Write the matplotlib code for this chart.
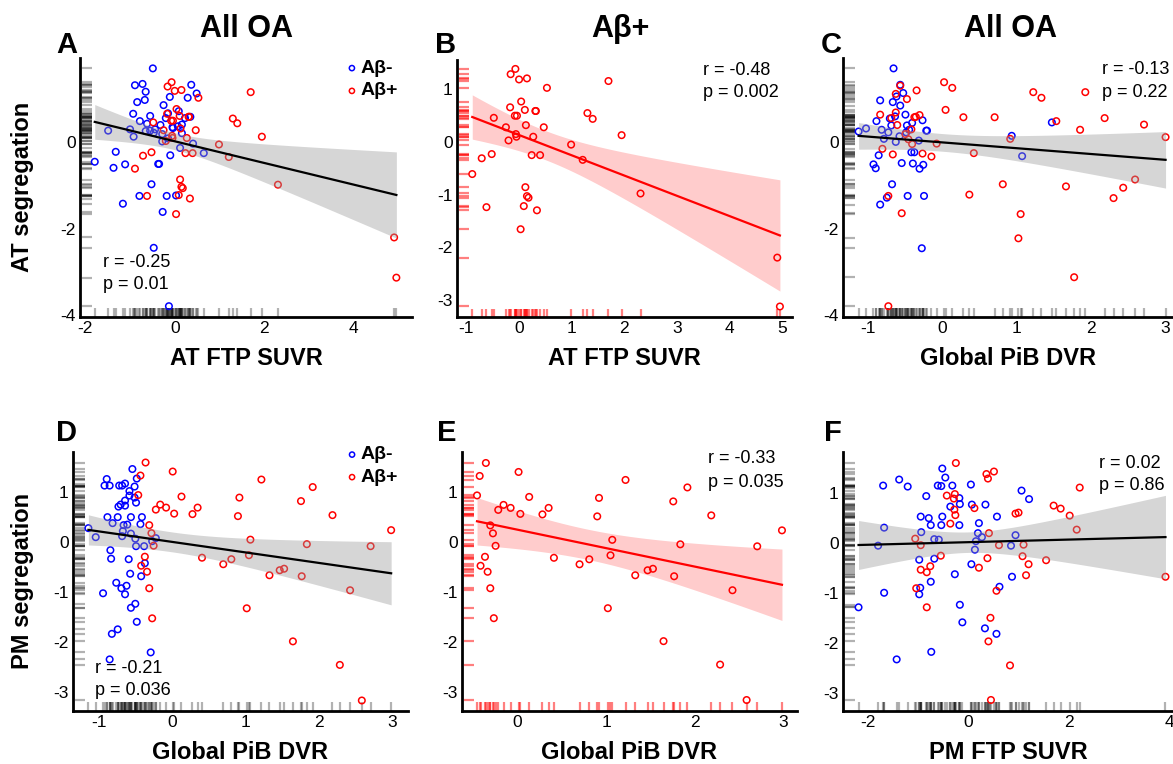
import numpy as np
import matplotlib
matplotlib.use("Agg")
import matplotlib.pyplot as plt

plt.rcParams["font.family"] = ["Liberation Sans", "DejaVu Sans"]

# ---- data ----
# A (AT FTP SUVR vs AT segregation), Abeta- group
a_blue_x = [-0.49, -0.89, -0.72, -0.65, -0.84, -0.67, -0.93, -0.78, -0.62, -0.55, -0.25, -0.11, -0.15, -0.20,
            -0.32, -0.05, -0.04, 0.09, 0.07, 0.16, 0.23, 0.35, 0.37, 0.49, 0.29, 0.16, -1.49, -1.00, -0.92,
            -0.65, -0.55, -0.44, -0.47, -0.28, -0.28, -0.15, 0.12, 0.41, 0.65, -0.10, -1.79, -1.32, -1.37,
            -1.11, -0.37, -0.35, -0.52, -0.79, -1.16, -0.27, -0.18, 0.03, -0.47, -0.13]
a_blue_y = [1.71, 1.32, 1.35, 1.17, 0.93, 0.98, 0.66, 0.49, 0.43, 0.61, 0.86, 1.05, 0.67, 0.56, 0.40, 0.35,
            0.33, 0.72, 0.37, 0.41, 0.56, 0.59, 1.33, 1.13, 1.03, 0.21, 0.27, 0.30, 0.13, 0.26, 0.27, 0.30,
            0.22, 0.19, 0.02, 0.09, -0.13, -0.03, -0.25, -0.30, -0.45, -0.22, -0.59, -0.51, -0.50, -0.50,
            -0.97, -1.24, -1.42, -1.61, -1.24, -1.23, -2.44, -3.79]
# A and B, Abeta+ group
ab_red_x = [-0.07, -0.16, 0.00, 0.15, 0.53, 1.70, 0.04, -0.17, 0.11, 0.31, 0.32, -0.08, -0.04, -0.48, 1.30,
            1.40, 0.13, -0.25, 0.47, -0.06, -0.05, 0.27, -0.20, 1.95, 0.99, -0.71, -0.52, 0.24, 0.40, 1.21,
            -0.89, 0.12, 0.15, 0.18, -0.62, 0.09, 0.34, 0.03, 2.31, 4.91, 4.96]
ab_red_y = [1.39, 1.29, 1.19, 1.21, 1.03, 1.16, 0.77, 0.66, 0.61, 0.59, 0.59, 0.50, 0.50, 0.46, 0.55, 0.44,
            0.32, 0.28, 0.28, 0.15, 0.10, 0.10, 0.03, 0.13, -0.05, -0.31, -0.23, -0.25, -0.25, -0.34, -0.61,
            -0.86, -1.03, -1.06, -1.24, -1.22, -1.30, -1.66, -0.98, -2.20, -3.13]

# C (Global PiB DVR vs AT segregation)
c_blue_x = [-0.66, -0.57, -0.53, -0.62, -0.67, -0.84, -0.57, -0.50, -0.89, -0.71, -0.64, -0.27, -0.41, -0.48,
            -0.69, -0.82, -0.73, -1.03, -1.13, -0.79, -0.58, -0.63, -0.45, -0.49, -0.22, -0.21, -0.32, -0.42,
            -0.38, -0.86, -0.93, -0.90, -0.55, -0.40, -0.31, -0.26, -0.68, -0.75, -0.47, -0.25, -0.84, -0.28,
            0.93, 1.07, 1.47]
c_blue_y = [1.71, 1.33, 1.14, 1.06, 0.93, 0.97, 0.85, 0.64, 0.49, 0.55, 0.60, 0.51, 0.45, 0.39, 0.39, 0.29,
            0.23, 0.32, 0.25, 0.08, 0.14, 0.01, 0.29, 0.23, 0.27, 0.27, 0.04, -0.23, -0.23, -0.30, -0.51, -0.60,
            -0.48, -0.49, -0.61, -0.52, -0.97, -1.28, -1.24, -1.24, -1.44, -2.45, 0.15, -0.32, 0.46]
c_red_x = [-0.57, -0.63, -0.48, -0.35, -0.84, -0.63, -0.69, -0.36, -0.31, -0.38, -0.61, -0.42, -0.50, -0.46,
           -0.41, -0.81, -0.67, -0.27, -0.15, -0.08, 0.02, 0.13, 0.04, 0.28, 0.70, 0.42, 0.36, 0.81, 0.91, 1.02,
           1.05, 1.22, 1.33, 1.53, 1.66, 1.77, 1.85, 1.92, 2.18, 2.30, 2.43, 2.59, 2.71, 3.00, -0.73, -0.55,
           -0.73]
c_red_y = [1.31, 1.12, 1.00, 1.20, 0.64, 0.69, 0.56, 0.59, 0.63, 0.58, 0.40, 0.30, 0.19, 0.07, -0.04, -0.15,
           -0.28, -0.26, -0.33, -0.03, 1.39, 1.26, 0.75, 0.58, 0.58, -0.25, -1.21, -0.97, 0.08, -2.22, -1.66,
           1.16, 1.03, 0.49, -1.02, -3.12, 0.29, 1.16, 0.56, -1.29, -1.05, -0.86, 0.41, 0.12, -1.24, -1.64,
           -3.79]

# D (Global PiB DVR vs PM segregation)
d_blue_x = [-0.54, -0.89, -0.92, -0.85, -0.72, -0.68, -0.64, -0.48, -0.51, -0.58, -0.58, -0.51, -0.49, -0.64,
            -0.73, -0.70, -0.64, -0.88, -0.74, -0.56, -0.41, -0.81, -0.66, -0.61, -0.43, -0.67, -0.68, -0.56,
            -0.50, -1.14, -1.04, -0.49, -0.38, -0.22, -0.27, -0.84, -0.83, -0.59, -0.37, -0.57, -0.42, -0.76,
            -0.69, -0.62, -0.64, -0.94, -0.56, -0.50, -0.48, -0.74, -0.82, -0.29, -0.85]
d_blue_y = [1.45, 1.25, 1.12, 1.12, 1.12, 1.12, 1.16, 1.26, 1.10, 1.01, 0.92, 0.88, 0.78, 0.82, 0.70, 0.74,
            0.72, 0.49, 0.49, 0.49, 0.49, 0.37, 0.33, 0.34, 0.35, 0.21, 0.11, 0.16, 0.06, 0.27, 0.09, -0.09,
            -0.09, 0.07, 0.01, -0.17, -0.34, -0.35, -0.43, -0.64, -0.69, -0.82, -0.93, -0.88, -1.05, -1.03,
            -1.32, -1.24, -1.60, -1.75, -1.84, -2.21, -2.35]
# D and E, Abeta+ group
de_red_x = [-0.36, -0.43, -0.46, 0.01, 0.13, -0.16, -0.22, -0.08, 0.03, 0.35, 0.28, -0.31, -0.28, -0.25,
            -0.37, -0.42, -0.34, -0.31, -0.27, 0.41, 0.70, 0.81, 0.90, 0.92, 1.07, 1.05, 1.02, 1.22, 1.33,
            1.47, 1.53, 1.65, 1.76, 1.77, 1.84, 1.92, 2.19, 2.29, 2.43, 2.59, 2.71, 2.99]
de_red_y = [1.58, 1.32, 0.93, 1.40, 0.90, 0.74, 0.64, 0.68, 0.56, 0.68, 0.55, 0.33, 0.17, -0.08, -0.30,
            -0.48, -0.60, -0.93, -1.53, -0.32, -0.45, -0.35, 0.51, 0.88, 0.04, -0.27, -1.33, 1.24, -0.67,
            -0.57, -0.54, -1.99, 0.81, -0.69, -0.05, 1.09, 0.53, -2.46, -0.97, -3.17, -0.09, 0.23]

# F (PM FTP SUVR vs PM segregation)
f_blue_x = [-1.70, -1.38, -1.21, -0.52, -0.46, -0.61, -0.54, -0.32, 0.05, -0.84, -0.18, -0.36, -0.17, 0.07,
            0.34, 1.06, 1.21, -0.95, -0.79, -0.52, 0.57, -0.75, -0.54, -0.18, 0.21, -1.68, -0.94, 0.19, 0.27,
            -0.68, -0.59, 0.15, -1.80, 0.94, 0.85, 0.13, -0.98, -0.68, 0.06, -0.27, 0.87, -0.75, 0.62, -0.96,
            -0.98, -1.68, -2.19, -0.17, -0.12, 0.33, 0.56, -0.74, -1.43]
f_blue_y = [1.14, 1.26, 1.12, 1.48, 1.30, 1.14, 1.13, 1.14, 1.16, 0.93, 0.89, 0.72, 0.77, 0.76, 0.76, 1.04,
            0.87, 0.52, 0.49, 0.52, 0.52, 0.35, 0.35, 0.35, 0.39, 0.30, 0.21, 0.19, 0.11, 0.07, 0.06, 0.03,
            -0.06, 0.15, -0.06, -0.14, -0.34, -0.32, -0.43, -0.63, -0.68, -0.78, -0.88, -0.90, -1.03, -1.00,
            -1.29, -1.24, -1.59, -1.71, -1.82, -2.18, -2.33]
f_red_x = [-0.25, 0.36, 0.51, 0.39, -0.27, -0.43, -0.29, -0.28, -0.26, 0.12, 0.94, 1.00, -0.36, 0.41, -1.06,
           -0.95, 0.61, 1.10, -0.55, 0.38, 1.08, -0.76, -0.95, -0.83, 0.21, 1.20, 1.15, 1.55, -1.04, 0.56,
           -0.83, 0.44, 0.40, 0.83, 0.45, 1.70, 1.84, 2.02, 2.22, 2.16, 3.93]
f_red_y = [1.59, 1.37, 1.42, 1.28, 0.97, 0.94, 0.88, 0.66, 0.55, 0.69, 0.58, 0.60, 0.38, 0.19, 0.08, -0.05,
           -0.05, -0.04, -0.26, -0.31, -0.27, -0.47, -0.54, -0.59, -0.50, -0.43, -0.65, -0.35, -0.91, -0.96,
           -1.29, -1.50, -1.97, -2.45, -3.14, 0.74, 0.68, 0.54, 1.10, 0.26, -0.68]

stats = {"A": ("r = -0.25", "p = 0.01"), "B": ("r = -0.48", "p = 0.002"), "C": ("r = -0.13", "p = 0.22"),
         "D": ("r = -0.21", "p = 0.036"), "E": ("r = -0.33", "p = 0.035"), "F": ("r = 0.02", "p = 0.86")}
col_titles = ["All OA", "A\u03b2+", "All OA"]
row_ylabels = ["AT segregation", "PM segregation"]
xlabels = {"A": "AT FTP SUVR", "B": "AT FTP SUVR", "C": "Global PiB DVR",
           "D": "Global PiB DVR", "E": "Global PiB DVR", "F": "PM FTP SUVR"}

BLUE, RED = "#0000ff", "#ff0000"
W, H = 1173, 764

fig = plt.figure(figsize=(W / 100, H / 100), dpi=100)


def px_axes(l, t, r, b):
    return fig.add_axes([l / W, 1 - b / H, (r - l) / W, (b - t) / H])


def fit_band(x, y):
    x = np.asarray(x); y = np.asarray(y)
    n = len(x)
    b1, b0 = np.polyfit(x, y, 1)
    xs = np.linspace(x.min(), x.max(), 200)
    yhat = b0 + b1 * xs
    s = np.sqrt(np.sum((y - (b0 + b1 * x)) ** 2) / (n - 2))
    se = s * np.sqrt(1 / n + (xs - x.mean()) ** 2 / np.sum((x - x.mean()) ** 2))
    t = 1.96 + 2.4 / (n - 2)  # close enough to the t quantile for these n
    return xs, yhat, yhat - t * se, yhat + t * se


def panel(ax, groups, fit_color, band_color, band_alpha, rug_color, rug_alpha,
          xlim, ylim, xticks, yticks):
    allx, ally = [], []
    for gx, gy, c in groups:
        assert len(gx) == len(gy)
        ax.scatter(gx, gy, s=22, facecolors="none", edgecolors=c, linewidths=1.1, zorder=2)
        allx += list(gx); ally += list(gy)
    xs, yh, lo, hi = fit_band(allx, ally)
    ax.fill_between(xs, lo, hi, color=band_color, alpha=band_alpha, lw=0, zorder=3)
    ax.plot(xs, yh, color=fit_color, lw=1.6, zorder=4)
    # rugs along both axes
    ax.vlines(allx, 0, 0.033, transform=ax.get_xaxis_transform(), color=rug_color,
              alpha=rug_alpha, lw=1.6, zorder=1)
    ax.hlines(ally, 0.006, 0.036, transform=ax.get_yaxis_transform(), color=rug_color,
              alpha=rug_alpha, lw=1.6, zorder=1)
    ax.set_xlim(*xlim); ax.set_ylim(*ylim)
    ax.set_xticks(xticks); ax.set_yticks(yticks)
    ax.set_xticklabels([str(v) for v in xticks]); ax.set_yticklabels([str(v) for v in yticks])
    ax.tick_params(length=0, labelsize=12.5, pad=3, colors="black")
    for sp in ["top", "right"]:
        ax.spines[sp].set_visible(False)
    for sp in ["left", "bottom"]:
        ax.spines[sp].set_linewidth(2.0)
    ax.patch.set_alpha(0)


axA = px_axes(80, 58, 412, 317)
axB = px_axes(457, 60, 792, 317)
axC = px_axes(843, 58, 1173, 317)
axD = px_axes(73, 452, 408, 711)
axE = px_axes(462, 452, 797, 711)
axF = px_axes(843, 452, 1173, 711)

GREY_BAND = "#999999"
panel(axA, [(a_blue_x, a_blue_y, BLUE), (ab_red_x, ab_red_y, RED)], "black", GREY_BAND, 0.4, "black", 0.3,
      (-2.12, 5.31), (-4.04, 1.95), [-2, 0, 2, 4], [-4, -2, 0])
panel(axB, [(ab_red_x, ab_red_y, RED)], RED, RED, 0.2, RED, 0.5,
      (-1.18, 5.19), (-3.33, 1.56), [-1, 0, 1, 2, 3, 4, 5], [-3, -2, -1, 0, 1])
panel(axC, [(c_blue_x, c_blue_y, BLUE), (c_red_x, c_red_y, RED)], "black", GREY_BAND, 0.4, "black", 0.3,
      (-1.34, 3.1), (-4.04, 1.95), [-1, 0, 1, 2, 3], [-4, -2, 0])
panel(axD, [(d_blue_x, d_blue_y, BLUE), (de_red_x, de_red_y, RED)], "black", GREY_BAND, 0.4, "black", 0.3,
      (-1.35, 3.22), (-3.38, 1.79), [-1, 0, 1, 2, 3], [-3, -2, -1, 0, 1])
panel(axE, [(de_red_x, de_red_y, RED)], RED, RED, 0.2, RED, 0.5,
      (-0.63, 3.16), (-3.39, 1.8), [0, 1, 2, 3], [-3, -2, -1, 0, 1])
panel(axF, [(f_blue_x, f_blue_y, BLUE), (f_red_x, f_red_y, RED)], "black", GREY_BAND, 0.4, "black", 0.3,
      (-2.5, 4.08), (-3.36, 1.81), [-2, 0, 2, 4], [-3, -2, -1, 0, 1])

axes = {"A": axA, "B": axB, "C": axC, "D": axD, "E": axE, "F": axF}
stat_pos = {"A": (0.069, 0.212, 0.124), "B": (0.734, 0.961, 0.875), "C": (0.785, 0.954, 0.865),
            "D": (0.066, 0.166, 0.081), "E": (0.734, 0.973, 0.884), "F": (0.776, 0.954, 0.869)}
for k, ax in axes.items():
    xr, yr, yp = stat_pos[k]
    ax.text(xr, yr, stats[k][0], transform=ax.transAxes, fontsize=13, va="center", ha="left", zorder=6)
    ax.text(xr, yp, stats[k][1], transform=ax.transAxes, fontsize=13, va="center", ha="left", zorder=6)

# legends in A and D
for ax, x0, y1, y2, xt in [(axA, 0.819, 0.961, 0.873, 0.844), (axD, 0.833, 0.99, 0.903, 0.858)]:
    ax.scatter([x0], [y1], s=14, facecolors="none", edgecolors=BLUE, linewidths=1.1,
               transform=ax.transAxes, clip_on=False, zorder=6)
    ax.scatter([x0], [y2], s=14, facecolors="none", edgecolors=RED, linewidths=1.1,
               transform=ax.transAxes, clip_on=False, zorder=6)
    ax.text(xt, y1, "A\u03b2-", transform=ax.transAxes, fontsize=14, fontweight="bold", va="center")
    ax.text(xt, y2, "A\u03b2+", transform=ax.transAxes, fontsize=14, fontweight="bold", va="center")

# x labels
for k, ax in axes.items():
    pos = ax.get_position()
    cx = (pos.x0 + pos.x1) / 2
    base = 365 if k in "ABC" else 759
    fig.text(cx, 1 - base / H, xlabels[k], fontsize=17, fontweight="bold", ha="center", va="baseline")

# column titles
for (cx, t) in zip([247, 620, 1011], col_titles):
    fig.text(cx / W, 1 - 37 / H, t, fontsize=22, fontweight="bold", ha="center", va="baseline")

# panel letters
for k, (lx, by) in {"A": (56, 53), "B": (435, 53), "C": (821, 53),
                    "D": (56, 441), "E": (437, 441), "F": (824, 441)}.items():
    fig.text(lx / W, 1 - by / H, k, fontsize=21, fontweight="bold", ha="left", va="baseline")

# row y labels
for cy, t in zip([187, 581], row_ylabels):
    fig.text(23 / W, 1 - cy / H, t, fontsize=17, fontweight="bold", rotation=90, ha="center", va="center")

fig.savefig("out.png", dpi=100)
